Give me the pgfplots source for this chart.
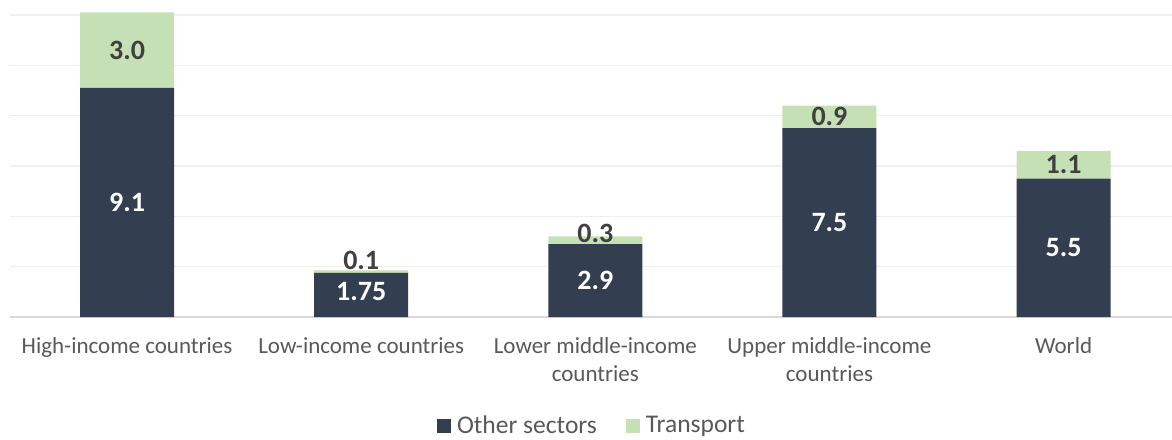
\documentclass[border=0pt]{standalone}
\usepackage{fontspec}
\setmainfont{Carlito}
\usepackage{pgfplots}
\pgfplotsset{compat=1.18}
\definecolor{darkbar}{HTML}{333F50}
\definecolor{greenbar}{HTML}{C5E0B4}
\definecolor{gridc}{HTML}{EFEFEF}
\definecolor{axisc}{HTML}{D9D9D9}
\definecolor{tickc}{HTML}{595959}
\definecolor{labc}{HTML}{404040}
\begin{document}
\begin{tikzpicture}
\pgfplotsset{common/.style={scale only axis, width=581pt, height=158.5pt,
  xmin=-0.5, xmax=4.463, ymin=0, ymax=12.594, at={(0,0)}, anchor=south west}}
\begin{axis}[common, ybar stacked, bar width=47pt,
  axis line style={draw=none}, major tick length=0pt,
  ytick={2,4,...,12}, yticklabels={}, ymajorgrids, grid style={gridc, line width=0.75pt},
  extra y ticks={0}, extra y tick labels={}, extra y tick style={grid style={axisc, line width=0.9pt}},
  xtick={0,...,4},
  xticklabels={High-income countries, Low-income countries, {Lower middle-income\\countries}, {Upper middle-income\\countries}, World},
  xticklabel style={align=center, anchor=north, inner sep=0pt, yshift=-10pt, font=\fontsize{11.5}{14}\selectfont, text=tickc},
  legend style={at={(0.5,0)}, anchor=center, yshift=-54.5pt, draw=none, legend columns=2,
    font=\fontsize{12.75}{15}\selectfont, text=tickc, nodes={inner sep=0pt},
    /tikz/every odd column/.append style={column sep=3pt},
    /tikz/every even column/.append style={column sep=14.5pt}},
  legend image code/.code={\fill[#1] (0pt,-3.5pt) rectangle (7pt,3.5pt);},
]
\addplot[fill=darkbar, draw=none] coordinates {(0,9.1) (1,1.75) (2,2.9) (3,7.5) (4,5.5)};
\addplot[fill=greenbar, draw=none] coordinates {(0,3.0) (1,0.1) (2,0.3) (3,0.9) (4,1.1)};
\legend{Other sectors, Transport}
\end{axis}
\begin{axis}[common, hide axis, clip=false,
  nodes near coords, point meta=explicit symbolic,
  every node near coord/.style={anchor=center, font=\fontsize{14}{16}\selectfont\bfseries}]
\addplot[draw=none, mark=none, nodes near coords style={text=white}] coordinates {(0,4.55)[9.1] (1,1.0)[1.75] (2,1.45)[2.9] (3,3.75)[7.5] (4,2.75)[5.5]};
\addplot[draw=none, mark=none, nodes near coords style={text=labc}] coordinates {(0,10.6)[3.0] (1,2.26)[0.1] (2,3.34)[0.3] (3,7.95)[0.9] (4,6.05)[1.1]};
\end{axis}
\pgfresetboundingbox
\path[use as bounding box] (-5pt,-61pt) rectangle (581pt,158.5pt);
\end{tikzpicture}
\end{document}
